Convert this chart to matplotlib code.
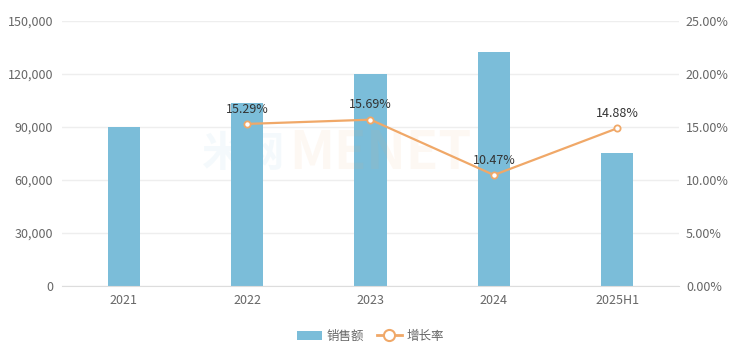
import matplotlib
matplotlib.use("Agg")
import matplotlib.pyplot as plt
from matplotlib.ticker import FuncFormatter
from matplotlib.lines import Line2D
from matplotlib.patches import Patch

plt.rcParams['font.family'] = ['Noto Sans CJK SC', 'DejaVu Sans']

categories = ["2021", "2022", "2023", "2024", "2025H1"]
sales = [90000, 103761, 120041, 132609, 75000]
growth_cats = ["2022", "2023", "2024", "2025H1"]
growth = [15.29, 15.69, 10.47, 14.88]

bar_color = "#7bbdd9"
line_color = "#f0a868"
text_color = "#666666"
grid_color = "#eeeeee"

fig = plt.figure(figsize=(7.41, 3.57), dpi=100)
ax = fig.add_axes([0.0837, 0.1989, 0.8326, 0.7423])
ax2 = ax.twinx()

x = list(range(len(categories)))
ax.bar(x, sales, width=0.26, color=bar_color, zorder=2)
ax.set_xlim(-0.5, len(categories) - 0.5)
ax.set_ylim(0, 150000)
ax.set_yticks(range(0, 150001, 30000))
ax.yaxis.set_major_formatter(FuncFormatter(lambda v, p: f"{int(v):,}"))
ax.grid(axis='y', color=grid_color, linewidth=1, zorder=0)
ax.set_axisbelow(True)
ax.set_xticks(x)
ax.set_xticklabels(categories)

gx = [categories.index(c) for c in growth_cats]
ax2.plot(gx, growth, color=line_color, linewidth=1.6, marker='o', markersize=4.5,
         markerfacecolor='white', markeredgecolor=line_color, markeredgewidth=1.3, zorder=5)
for xi, v in zip(gx, growth):
    ax2.annotate(f"{v:.2f}%", (xi, v), xytext=(0, 6), textcoords='offset points',
                 ha='center', va='bottom', fontsize=9, color="#333333")
ax2.set_ylim(0, 25)
ax2.set_yticks([0, 5, 10, 15, 20, 25])
ax2.yaxis.set_major_formatter(FuncFormatter(lambda v, p: f"{v:.2f}%"))

for a in (ax, ax2):
    for s in a.spines.values():
        s.set_visible(False)
    a.tick_params(length=0, colors=text_color, labelsize=9)
ax.spines['bottom'].set_visible(True)
ax.spines['bottom'].set_color("#dddddd")
ax.tick_params(axis='y', pad=6.5)
ax2.tick_params(axis='y', pad=5)
ax.tick_params(axis='x', pad=6)

# watermark
fig.text(0.385, 0.57, "米网", fontsize=30, fontweight='bold', color=bar_color, alpha=0.08, ha='right', va='center')
fig.text(0.39, 0.57, "MENET", fontsize=38, fontweight='bold', color=line_color, alpha=0.08, ha='left', va='center')

handles = [Patch(facecolor=bar_color, edgecolor='none', label='销售额'),
           Line2D([0], [0], color=line_color, linewidth=2, marker='o', markersize=8,
                  markerfacecolor='white', markeredgecolor=line_color, markeredgewidth=1.5, label='增长率')]
fig.legend(handles=handles, loc='center', bbox_to_anchor=(0.5, 0.058), ncol=2, frameon=False,
           fontsize=9, labelcolor=text_color, handlelength=2.0, columnspacing=1.0, handletextpad=0.4)

fig.savefig("out.png", dpi=100)
